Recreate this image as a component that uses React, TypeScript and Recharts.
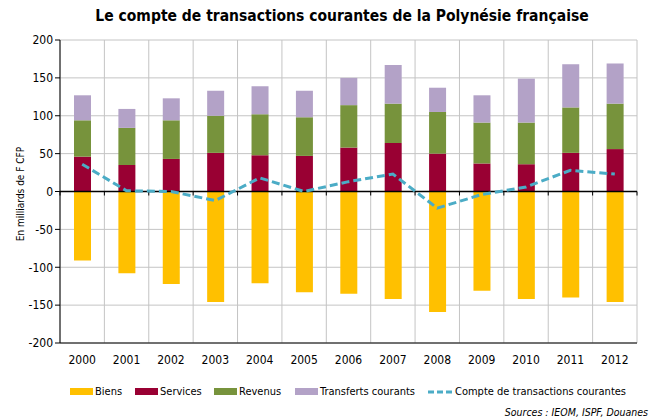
import React from 'react';
import {
  ComposedChart,
  Bar,
  Line,
  XAxis,
  YAxis,
  CartesianGrid,
  ReferenceLine,
} from 'recharts';

const years = ['2000', '2001', '2002', '2003', '2004', '2005', '2006', '2007', '2008', '2009', '2010', '2011', '2012'];
const biens = [-91, -108, -122, -146, -121, -133, -135, -142, -159, -131, -142, -140, -146];
const services = [46, 35, 43, 51, 48, 47, 58, 64, 50, 37, 36, 51, 56];
const revenus = [48, 49, 51, 49, 54, 51, 56, 52, 55, 54, 55, 60, 60];
const transferts = [33, 25, 29, 33, 37, 35, 36, 51, 32, 36, 58, 57, 53];
const compte = [36, 1, 0, -12, 18, 0, 13, 23, -22, -4, 6, 28, 23];
const yTicks = [-200, -150, -100, -50, 0, 50, 100, 150, 200];

const data = years.map((year, i) => ({
  year,
  biens: biens[i],
  services: services[i],
  revenus: revenus[i],
  transferts: transferts[i],
  compte: compte[i],
}));

const FONT = '"DejaVu Sans Condensed", "DejaVu Sans", sans-serif';

const legendItems = [
  { name: 'Biens', color: '#FFC000', type: 'bar', left: 70 },
  { name: 'Services', color: '#990033', type: 'bar', left: 135 },
  { name: 'Revenus', color: '#77933C', type: 'bar', left: 214 },
  { name: 'Transferts courants', color: '#B3A2C7', type: 'bar', left: 295 },
  { name: 'Compte de transactions courantes', color: '#4BACC6', type: 'line', left: 428 },
];

// ligne du zéro avec les petites graduations entre les années
const ZeroLine = (props: any) => {
  const { x1, x2, y1 } = props;
  const step = (x2 - x1) / years.length;
  return (
    <g>
      <line x1={x1} x2={x2} y1={y1} y2={y1} stroke="#000" strokeWidth={1.5} />
      {Array.from({ length: years.length + 1 }, (_, i) => (
        <line key={i} x1={x1 + i * step} x2={x1 + i * step} y1={y1} y2={y1 + 4} stroke="#000" />
      ))}
    </g>
  );
};

export default function App() {
  return (
    <div style={{ position: 'absolute', left: 0, top: 0, width: 650, height: 419, overflow: 'hidden', background: '#fff', fontFamily: FONT }}>
      <div style={{ position: 'absolute', top: 7, left: 0, width: 684, textAlign: 'center', fontWeight: 'bold', fontSize: 15.5 }}>
        Le compte de transactions courantes de la Polynésie française
      </div>
      <div
        style={{
          position: 'absolute',
          left: 20,
          top: 194,
          fontSize: 10,
          whiteSpace: 'nowrap',
          transform: 'translate(-50%, -50%) rotate(-90deg)',
        }}
      >
        En milliards de F CFP
      </div>
      <ComposedChart
        width={650}
        height={419}
        data={data}
        stackOffset="sign"
        margin={{ top: 40, right: 13, left: 0, bottom: 46 }}
      >
        <CartesianGrid
          stroke="#c4c4c4"
          verticalCoordinatesGenerator={({ offset }: any) =>
            Array.from({ length: years.length + 1 }, (_, i) => offset.left + (i * offset.width) / years.length)
          }
        />
        <XAxis
          dataKey="year"
          axisLine={{ stroke: '#000' }}
          tickLine={false}
          tick={{ fill: '#000', fontSize: 12, fontFamily: FONT }}
          tickMargin={6}
          height={30}
        />
        <YAxis
          domain={[-200, 200]}
          ticks={yTicks}
          width={60}
          axisLine={{ stroke: '#000' }}
          tickLine={{ stroke: '#000' }}
          tickSize={5}
          tick={{ fill: '#000', fontSize: 12, fontFamily: FONT }}
          interval={0}
        />
        <Bar dataKey="biens" stackId="a" fill="#FFC000" barSize={17} isAnimationActive={false} />
        <Bar dataKey="services" stackId="a" fill="#990033" barSize={17} isAnimationActive={false} />
        <Bar dataKey="revenus" stackId="a" fill="#77933C" barSize={17} isAnimationActive={false} />
        <Bar dataKey="transferts" stackId="a" fill="#B3A2C7" barSize={17} isAnimationActive={false} />
        <ReferenceLine y={0} shape={<ZeroLine />} />
        <Line
          type="linear"
          dataKey="compte"
          stroke="#4BACC6"
          strokeWidth={3}
          strokeDasharray="8 4"
          dot={false}
          isAnimationActive={false}
        />
      </ComposedChart>
      {legendItems.map((item) => (
        <div
          key={item.name}
          style={{ position: 'absolute', left: item.left, top: 385, display: 'flex', alignItems: 'center', fontSize: 11, whiteSpace: 'nowrap' }}
        >
          {item.type === 'bar' ? (
            <span style={{ display: 'inline-block', width: 23, height: 7, background: item.color, marginRight: 2 }} />
          ) : (
            <svg width={25} height={8} style={{ marginRight: 2 }}>
              <line x1={0} x2={25} y1={4} y2={4} stroke={item.color} strokeWidth={3} strokeDasharray="6 3" />
            </svg>
          )}
          {item.name}
        </div>
      ))}
      <div style={{ position: 'absolute', right: 2, top: 406, fontSize: 10.5, fontStyle: 'italic', whiteSpace: 'nowrap' }}>
        Sources : IEOM, ISPF, Douanes
      </div>
    </div>
  );
}
